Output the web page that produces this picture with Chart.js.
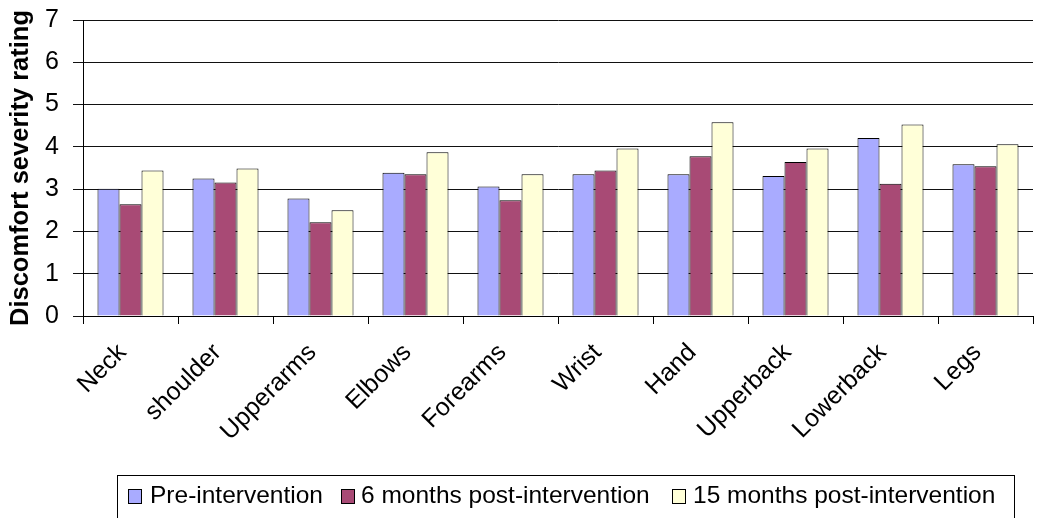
<!DOCTYPE html>
<html>
<head>
<meta charset="utf-8">
<script src="https://cdn.jsdelivr.net/npm/chart.js@4.4.1/dist/chart.umd.min.js"></script>
<style>
  html, body { margin: 0; padding: 0; background: #ffffff; }
  #wrap { width: 1043px; height: 518px; position: relative; }
</style>
</head>
<body>
<div id="wrap"><canvas id="c" width="1043" height="518"></canvas></div>
<script>
// Body regions
const categories = ['Neck', 'shoulder', 'Upperarms', 'Elbows', 'Forearms', 'Wrist', 'Hand', 'Upperback', 'Lowerback', 'Legs'];

// Mean discomfort severity per region
const preIntervention   = [3.01, 3.25, 2.78, 3.39, 3.06, 3.35, 3.35, 3.31, 4.21, 3.59];
const sixMonthsPost     = [2.64, 3.16, 2.22, 3.35, 2.74, 3.44, 3.78, 3.64, 3.13, 3.54];
const fifteenMonthsPost = [3.44, 3.49, 2.50, 3.87, 3.35, 3.96, 4.58, 3.96, 4.53, 4.06];

const seriesNames = ['Pre-intervention', '6 months post-intervention', '15 months post-intervention'];
const yTicks = [0, 1, 2, 3, 4, 5, 6, 7];

const colors = ['#a9abff', '#a84a75', '#ffffd8'];
const FONT = '"Liberation Sans", Arial, sans-serif';

// Boxed legend along the bottom edge
const boxedLegend = {
  id: 'boxedLegend',
  afterDraw(chart) {
    const ctx = chart.ctx;
    ctx.save();
    ctx.strokeStyle = '#000';
    ctx.lineWidth = 1;
    ctx.strokeRect(117.5, 475.5, 897, 60);
    const swatchX = [128, 341, 672];
    const textX = [150, 361, 693];
    ctx.font = '24.5px ' + FONT;
    ctx.textBaseline = 'middle';
    for (let i = 0; i < seriesNames.length; i++) {
      ctx.fillStyle = colors[i];
      ctx.fillRect(swatchX[i] + 0.5, 489.5, 13, 14);
      ctx.strokeStyle = '#000';
      ctx.strokeRect(swatchX[i] + 0.5, 489.5, 13, 14);
      ctx.fillStyle = '#000';
      ctx.fillText(seriesNames[i], textX[i], 496);
    }
    ctx.restore();
  }
};

const datasets = [preIntervention, sixMonthsPost, fifteenMonthsPost].map((vals, i) => ({
  label: seriesNames[i],
  data: vals,
  backgroundColor: colors[i],
  borderColor: '#000',
  borderWidth: 1,
  categoryPercentage: 0.695,
  barPercentage: 1.0
}));

new Chart(document.getElementById('c'), {
  type: 'bar',
  data: { labels: categories, datasets },
  options: {
    responsive: false,
    animation: false,
    layout: { padding: { top: 0, right: 10, bottom: 72, left: 0 } },
    plugins: {
      legend: { display: false },
      tooltip: { enabled: false }
    },
    scales: {
      x: {
        grid: {
          offset: true,
          drawOnChartArea: false,
          drawTicks: true,
          tickLength: 8,
          color: '#000'
        },
        border: { display: true, color: '#000', width: 1 },
        ticks: {
          color: '#000',
          font: { family: FONT, size: 25 },
          maxRotation: 45,
          minRotation: 45,
          padding: 14,
          labelOffset: -8,
          autoSkip: false
        },
        afterFit(scale) { scale.height = 130; }
      },
      y: {
        min: 0,
        max: 7,
        afterBuildTicks(scale) { scale.ticks = yTicks.map(v => ({ value: v })); },
        grid: {
          color: '#111',
          lineWidth: 1,
          tickLength: 10,
          drawTicks: true
        },
        border: { display: true, color: '#000', width: 1 },
        ticks: {
          color: '#000',
          font: { family: FONT, size: 25 },
          padding: 14
        },
        title: {
          display: true,
          text: 'Discomfort severity rating',
          color: '#000',
          font: { family: FONT, size: 25.5, weight: 'bold' },
          padding: { top: 6, bottom: 0 }
        },
        afterFit(scale) {
          scale.width = 83;
          scale.paddingTop = 20;
          scale.paddingBottom = 0;
        }
      }
    }
  },
  plugins: [boxedLegend]
});
</script>
</body>
</html>
